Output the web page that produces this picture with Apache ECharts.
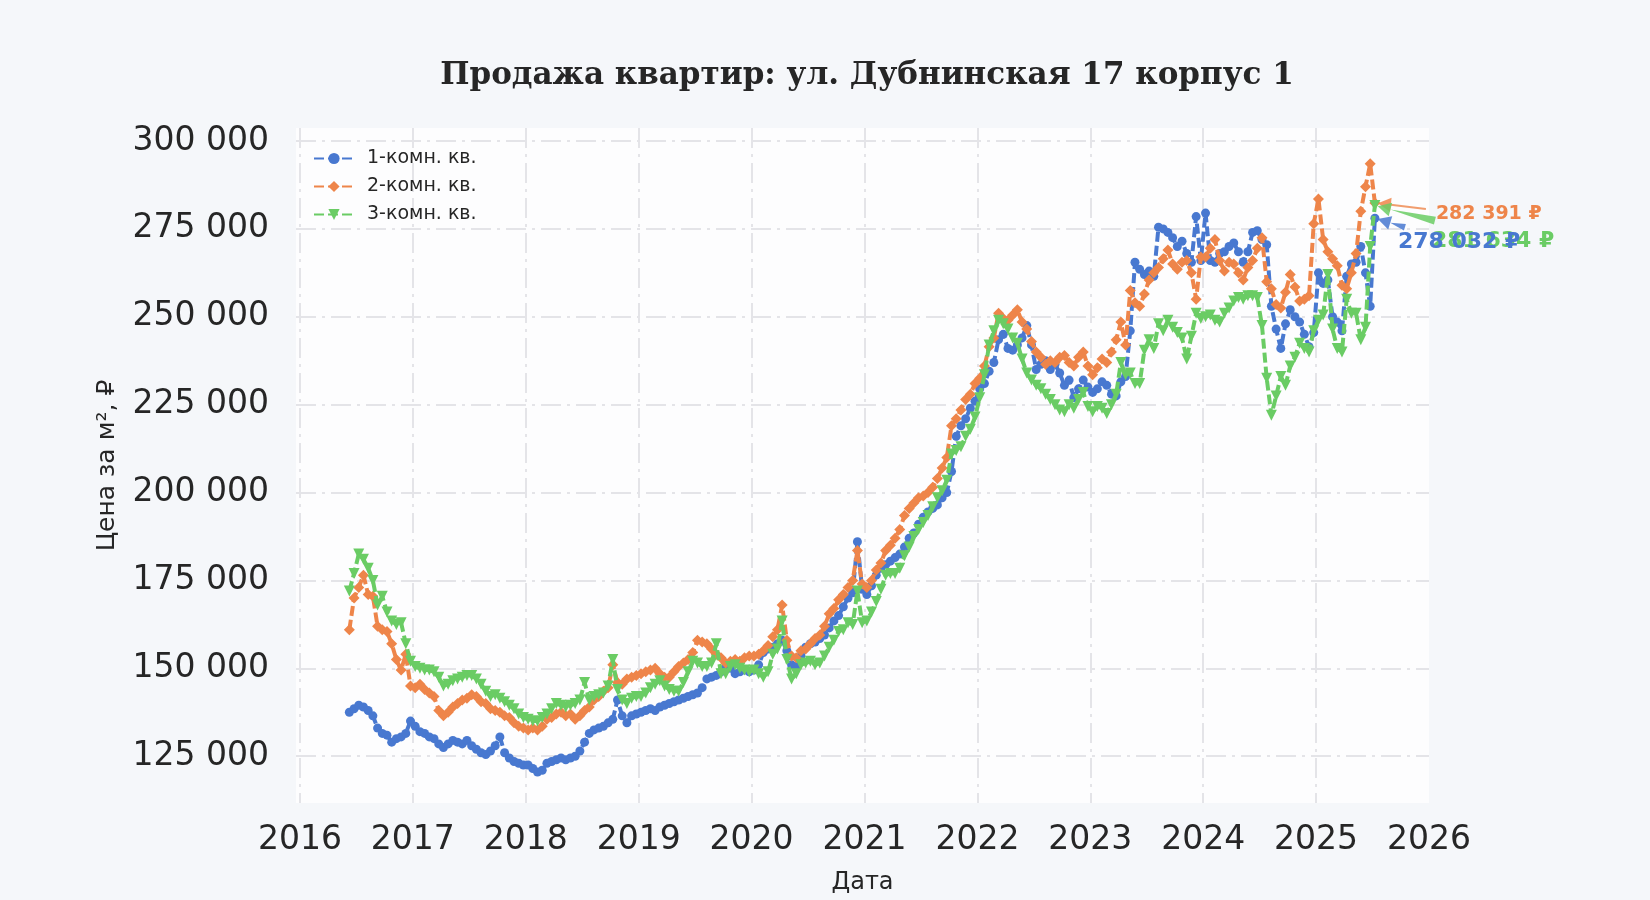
<!DOCTYPE html>
<html>
<head>
<meta charset="utf-8">
<title>Продажа квартир</title>
<script src="https://cdn.jsdelivr.net/npm/echarts@6/dist/echarts.min.js"></script>
<style>
  html, body { margin: 0; padding: 0; background: #f5f7fa; }
  #chart { width: 1650px; height: 900px; }
</style>
</head>
<body>
<div id="chart"></div>
<script>
// Наблюдения два раза в месяц: с начала июня 2016 по начало июля 2025
const firstMonth = [2016, 6];
const seriesNames = ['1-комн. кв.', '2-комн. кв.', '3-комн. кв.'];
const seriesColors = ['#4878d0', '#ee854a', '#6acc64'];
const yTicks = [125000, 150000, 175000, 200000, 225000, 250000, 275000, 300000];
const xTicks = [2016, 2017, 2018, 2019, 2020, 2021, 2022, 2023, 2024, 2025, 2026];

const oneRoom = [
    137500, 138500, 139500, 139000, 138000, 136500, 133000, 131500, 131000, 129000, 130000, 130500, 131500, 135000,
    133500, 132000, 131500, 130500, 130000, 128500, 127500, 128500, 129500, 129000, 128500, 129500, 128000, 127000, 126000, 125500, 126500, 128000, 130500, 126000, 124500, 123500, 123000, 122500,
    122500, 121500, 120500, 121000, 123000, 123500, 124000, 124500, 124000, 124500, 125000, 126500, 129000, 131500, 132500, 133000, 133500, 134500, 135500, 141000, 136500, 134500, 136500, 137000,
    137500, 138000, 138500, 138000, 139000, 139500, 140000, 140500, 141000, 141500, 142000, 142500, 143000, 144500, 147000, 147500, 148000, 149000, 150500, 150000, 148500, 149000, 149500, 149000,
    149500, 151000, 154500, 155500, 156000, 157000, 158000, 155000, 151000, 150500, 153500, 156000, 157000, 157500, 158500, 159500, 161500, 163500, 165000, 167500, 170000, 171500, 186000, 172500,
    171000, 173500, 176500, 178500, 179500, 180500, 181500, 182500, 184500, 187000, 188500, 191000, 193000, 194500, 195500, 196500, 198500, 200000, 206000, 216000, 219000, 221000, 224000, 226000,
    229500, 231000, 234500, 237000, 243500, 245000, 241000, 240500, 242000, 244000, 247500, 242000, 235000, 236500, 237500, 235000, 236500, 234000, 230500, 232000, 227000, 229500, 232000, 230000,
    228500, 229500, 231500, 230500, 228000, 227500, 231500, 233000, 246000, 265500, 263500, 262000, 263000, 261500, 275500, 275000, 274000, 272500, 270000, 271500, 268000, 265500, 278500, 266000,
    279500, 266000, 265500, 268000, 268500, 270000, 271000, 268500, 265500, 268500, 274000, 274500, 272000, 270500, 253000, 246500, 241000, 248000, 252000, 250000, 248500, 245000, 241500, 245500,
    262500, 259500, 260500, 250000, 248500, 246000, 261500, 265000, 265500, 270000, 262500, 253000, 278032
];

const twoRoom = [
    161000, 170000, 173000, 176500, 171000, 170500, 162000, 161000, 160500, 157000, 152500, 149500, 154000, 145000,
    144500, 145500, 144000, 143000, 142000, 138000, 136500, 137500, 139000, 140000, 141000, 141500, 142500, 142000, 140500, 140000, 138500, 138000, 137500, 136500, 136000, 134500, 133500, 133000,
    132500, 133000, 132500, 133500, 135500, 136000, 137000, 137500, 136500, 137000, 135500, 136500, 138000, 139000, 141000, 142000, 143500, 144500, 151000, 146000, 145500, 147000, 147500, 148000,
    148500, 149000, 149500, 150000, 148500, 147500, 147500, 149000, 150500, 151500, 152500, 154500, 158000, 157500, 157000, 155500, 154000, 153000, 151500, 152000, 152500, 152000, 153000, 153500,
    153500, 154000, 155000, 156500, 159000, 161000, 168000, 158000, 153500, 153000, 155000, 155500, 157000, 158500, 159500, 162000, 165500, 167000, 169500, 171000, 173000, 175000, 183500, 174000,
    173000, 175000, 178000, 180000, 183500, 185000, 187000, 189500, 193500, 195500, 197000, 198500, 199000, 200000, 201500, 204000, 207000, 210000, 219000, 221000, 223500, 226500, 228000, 231000,
    232500, 236000, 241500, 244000, 251000, 249500, 249000, 250500, 252000, 248500, 246500, 243000, 240000, 238500, 236500, 237500, 237000, 238500, 239000, 237000, 236000, 238500, 240000, 236000,
    233500, 235500, 238000, 237000, 240000, 243500, 248500, 242000, 257500, 254000, 253000, 256500, 260500, 262500, 264000, 266500, 269000, 265000, 263500, 265500, 266000, 262500, 255000, 267000,
    267000, 269500, 272000, 266000, 263000, 265500, 265000, 262500, 260500, 264000, 266000, 269500, 272500, 260000, 258000, 253500, 252500, 257000, 262000, 258500, 254500, 255000, 256000, 276500,
    283500, 272000, 268500, 266500, 264500, 259000, 258000, 262500, 268000, 280000, 287000, 293500, 282391
];

const threeRoom = [
    172000, 177000, 182500, 181000, 178500, 175000, 168000, 170500, 166000, 163500, 162500, 163000, 157000, 152000,
    150500, 150000, 149500, 149500, 149000, 147500, 145000, 145500, 146500, 147000, 147500, 148000, 148000, 147000, 145500, 143500, 142000, 142500, 141500, 140500, 139500, 138500, 137000, 136000,
    135500, 135000, 135000, 136000, 137000, 138500, 140000, 139500, 139000, 139500, 140000, 141000, 146000, 141000, 142000, 142500, 143000, 145000, 152500, 144000, 141000, 140000, 141500, 142000,
    142000, 143000, 144500, 145500, 146500, 145000, 144000, 143500, 143500, 146000, 149000, 152000, 151500, 150500, 150500, 151500, 157000, 148500, 148500, 150500, 151000, 150000, 149500, 149000,
    149500, 148500, 147500, 149000, 154000, 155500, 163500, 152500, 147000, 148500, 151000, 151500, 152000, 151000, 151500, 153500, 156000, 158000, 160500, 161000, 163000, 162500, 172000, 163000,
    163500, 166000, 169000, 172500, 176500, 177000, 177000, 178500, 182000, 184500, 187500, 189500, 191500, 193500, 196000, 198500, 200500, 203500, 211000, 212000, 213000, 216000, 218000, 221500,
    227000, 233500, 242000, 246000, 249000, 248000, 246500, 244000, 242500, 238000, 234000, 232000, 230500, 229500, 228000, 226500, 225000, 223500, 223000, 225000, 224000, 226500, 228500, 224500,
    223000, 224500, 224000, 222500, 225000, 228000, 237000, 233500, 234000, 231000, 231000, 240500, 243500, 241000, 248000, 246000, 249000, 247000, 245500, 244000, 238000, 244500, 251000, 249500,
    250000, 250500, 249000, 248500, 251000, 252500, 254500, 255500, 255000, 256000, 256000, 255500, 247500, 232500, 222000, 227500, 233000, 230500, 236000, 238500, 242500, 241000, 240000, 246000,
    249000, 250500, 262000, 246500, 241000, 240000, 255000, 251000, 251000, 243500, 247000, 270000, 281634
];

// i-е наблюдение: первая или вторая половина месяца, в долях года
function pointYear(i) {
    const h = (firstMonth[1] - 1) * 2 + i;
    return firstMonth[0] + (h + 0.5) / 24;
}

function toPairs(values) {
    return values.map((v, i) => [pointYear(i), v]);
}

function fmtRub(v) {
    return String(Math.round(v)).replace(/\B(?=(\d{3})+(?!\d))/g, ' ');
}

const chart = echarts.init(document.getElementById('chart'));
const fontSans = 'DejaVu Sans';
const gridLine = { color: '#e4e4e8', width: 2, type: [20, 6, 3, 6] };

const symbols = ['circle', 'diamond', 'triangle'];
const symbolSizes = [9, 11, 11];
const symbolRotate = [0, 0, 180];
const valueSets = [oneRoom, twoRoom, threeRoom];

const option = {
    animation: false,
    backgroundColor: '#f5f7fa',
    title: {
        text: 'Продажа квартир: ул. Дубнинская 17 корпус 1',
        left: 862,
        top: 55,
        textAlign: 'center',
        textStyle: {
            fontFamily: 'DejaVu Serif',
            fontWeight: 'bold',
            fontSize: 31,
            color: '#262626'
        }
    },
    legend: {
        orient: 'vertical',
        left: 308,
        top: 144,
        itemWidth: 40,
        itemHeight: 14,
        itemGap: 9,
        padding: 5,
        textStyle: {
            fontFamily: fontSans,
            fontSize: 19,
            lineHeight: 19,
            color: '#262626',
            padding: [0, 0, 0, 8]
        },
        data: seriesNames
    },
    grid: {
        left: 296,
        right: 221,
        top: 128,
        bottom: 93,
        show: true,
        backgroundColor: '#fdfdfe',
        borderWidth: 0
    },
    xAxis: {
        type: 'value',
        min: 2015.965,
        max: 2026.0,
        minInterval: 1,
        maxInterval: 1,
        name: 'Дата',
        nameLocation: 'middle',
        nameGap: 68,
        nameTextStyle: { fontFamily: fontSans, fontSize: 24, color: '#262626' },
        axisLine: { show: false },
        axisTick: { show: false },
        axisLabel: {
            fontFamily: fontSans,
            fontSize: 33,
            color: '#262626',
            margin: 21,
            showMinLabel: false,
            showMaxLabel: true,
            formatter: v => (xTicks.indexOf(Math.round(v * 1000) / 1000) >= 0 ? String(v) : '')
        },
        splitLine: { show: true, showMinLine: false, showMaxLine: false, lineStyle: gridLine }
    },
    yAxis: {
        type: 'value',
        min: 111700,
        max: 303700,
        minInterval: 25000,
        maxInterval: 25000,
        name: 'Цена за м², ₽',
        nameLocation: 'middle',
        nameGap: 176,
        nameTextStyle: { fontFamily: fontSans, fontSize: 25, color: '#262626' },
        axisLine: { show: false },
        axisTick: { show: false },
        axisLabel: {
            fontFamily: fontSans,
            fontSize: 33,
            color: '#262626',
            margin: 27,
            showMinLabel: false,
            showMaxLabel: false,
            formatter: v => (yTicks.indexOf(v) >= 0 ? fmtRub(v) : '')
        },
        splitLine: { show: true, showMinLine: false, showMaxLine: false, lineStyle: gridLine }
    },
    series: valueSets.map((vals, k) => ({
        name: seriesNames[k],
        type: 'line',
        data: toPairs(vals),
        symbol: symbols[k],
        symbolSize: symbolSizes[k],
        symbolRotate: symbolRotate[k],
        showAllSymbol: true,
        clip: false,
        z: 2 + k,
        lineStyle: { width: 4, type: [10, 4], color: seriesColors[k] },
        itemStyle: { color: seriesColors[k] }
    }))
};

chart.setOption(option);

// Подписи последних значений со стрелками
const notes = [
    // серия, хвост стрелки dx/dy, текст dx/dy, размер шрифта, толщина
    { k: 1, tail: [51, 6], text: [61, 11], size: 19, width: 2, wedge: false },
    { k: 2, tail: [60, 15], text: [57, 36], size: 22, width: 8, wedge: true },
    { k: 0, tail: [30, 9], text: [23, 24], size: 22, width: 7, wedge: true }
];

const graphics = [];
notes.forEach(n => {
    const vals = valueSets[n.k];
    const last = vals.length - 1;
    const p = chart.convertToPixel({ xAxisIndex: 0, yAxisIndex: 0 }, [pointYear(last), vals[last]]);
    const color = seriesColors[n.k];
    const tx = p[0] + n.tail[0], ty = p[1] + n.tail[1];
    const dx = p[0] - tx, dy = p[1] - ty;
    const len = Math.sqrt(dx * dx + dy * dy);
    const ux = dx / len, uy = dy / len;
    const px = -uy, py = ux;
    const tip = [p[0] - ux * 3, p[1] - uy * 3];
    const headLen = 13, headW = 7;
    const base = [tip[0] - ux * headLen, tip[1] - uy * headLen];
    if (n.wedge) {
        graphics.push({
            type: 'polygon', z: 100,
            shape: { points: [[tx + px * n.width / 2, ty + py * n.width / 2], [tx - px * n.width / 2, ty - py * n.width / 2], base] },
            style: { fill: color, opacity: 0.85 }
        });
    } else {
        graphics.push({
            type: 'line', z: 100,
            shape: { x1: tx, y1: ty, x2: base[0], y2: base[1] },
            style: { stroke: color, lineWidth: n.width, opacity: 0.8 }
        });
    }
    graphics.push({
        type: 'polygon', z: 100,
        shape: { points: [tip, [base[0] + px * headW, base[1] + py * headW], [base[0] - px * headW, base[1] - py * headW]] },
        style: { fill: color, opacity: 0.85 }
    });
    graphics.push({
        type: 'text', z: 101,
        x: p[0] + n.text[0], y: p[1] + n.text[1],
        style: {
            text: fmtRub(vals[last]) + ' ₽',
            fill: color,
            font: 'bold ' + n.size + 'px "DejaVu Sans"',
            textAlign: 'left',
            textVerticalAlign: 'middle'
        }
    });
});

chart.setOption({ graphic: graphics });
</script>
</body>
</html>
